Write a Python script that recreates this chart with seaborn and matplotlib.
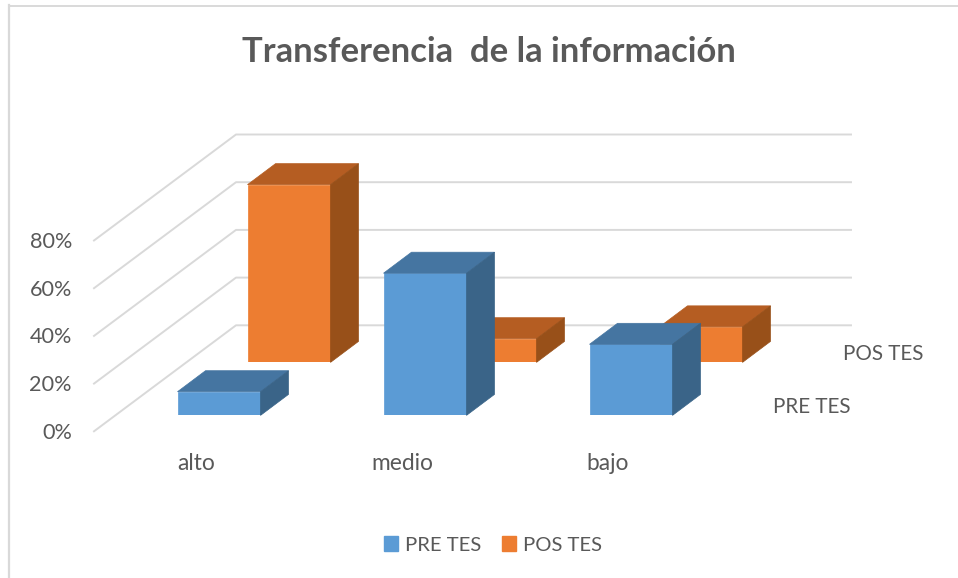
import matplotlib
matplotlib.use('Agg')
import matplotlib.pyplot as plt
import pandas as pd
import seaborn as sns
from matplotlib.patches import Patch, Polygon

# Chart data
categories = ['alto', 'medio', 'bajo']
pre_tes = [10, 60, 30]
pos_tes = [75, 10, 15]
y_ticks = [0, 20, 40, 60, 80]
series_names = ['PRE TES', 'POS TES']
title = 'Transferencia  de la información'

# Colours: front, top, side
BLUE = ('#5B9BD5', '#4575A1', '#3A6488')
ORANGE = ('#ED7D31', '#B55D22', '#985019')
GRID = '#D9D9D9'
TEXT = '#595959'

# Pseudo 3D layout, in pixels of the 958x578 picture
W, H = 958, 578
PX_PER_PCT = 47.4 / 20
CAT_STEP = 206
BAR_PX = 83
DEPTH_DX, DEPTH_DY = 28, 21


def make_axes(fig, left, baseline):
    # axes with y=0 on the baseline pixel, 0-100% upward, categories across
    height = 100 * PX_PER_PCT
    ax = fig.add_axes([left / W, (H - baseline) / H, 3 * CAT_STEP / W, height / H])
    ax.patch.set_alpha(0)
    return ax


def draw_bars(ax, values, colors):
    df = pd.DataFrame({'category': categories, 'value': values})
    sns.barplot(data=df, x='category', y='value', color=colors[0], saturation=1,
                width=BAR_PX / CAT_STEP, ax=ax)
    ax.set_xlim(-0.5, 2.5)
    ax.set_ylim(0, 100)
    ax.axis('off')

    # top and side faces come from the front rectangles
    dx = DEPTH_DX / CAT_STEP
    dy = DEPTH_DY / PX_PER_PCT
    for bar in list(ax.patches):
        bar.set_edgecolor(colors[0])
        bar.set_linewidth(0.5)
        x0, x1 = bar.get_x(), bar.get_x() + bar.get_width()
        top = bar.get_height()
        ax.add_patch(Polygon([(x0, top), (x1, top), (x1 + dx, top + dy), (x0 + dx, top + dy)],
                             facecolor=colors[1], edgecolor=colors[1], lw=0.5, clip_on=False))
        ax.add_patch(Polygon([(x1, 0), (x1 + dx, dy), (x1 + dx, top + dy), (x1, top)],
                             facecolor=colors[2], edgecolor=colors[2], lw=0.5, clip_on=False))


fig = plt.figure(figsize=(W / 100, H / 100), dpi=100)
plt.rcParams['font.family'] = ['Lato', 'DejaVu Sans']

# background layer in picture pixels
bg = fig.add_axes([0, 0, 1, 1])
bg.set_xlim(0, W)
bg.set_ylim(H, 0)
bg.axis('off')
bg.plot([9, 9], [5, H], color=GRID, lw=1.6)
bg.plot([9, W], [6, 6], color=GRID, lw=1.4)

for tick in y_ticks:
    front_y = 431.3 - tick * 47.7 / 20
    back_y = 325.3 - tick * 47.7 / 20
    bg.plot([94, 236, 851], [front_y, back_y, back_y], color=GRID, lw=1.4)
    bg.text(72, front_y + 1.5, f'{tick}%', ha='right', va='center', fontsize=15.6, color=TEXT)

for i, cat in enumerate(categories):
    bg.text(197 + i * CAT_STEP - 1, 464, cat, ha='center', va='center', fontsize=16.4, color=TEXT)

bg.text(812, 407, series_names[0], ha='center', va='center', fontsize=14.9, color=TEXT)
bg.text(883, 354, series_names[1], ha='center', va='center', fontsize=14.9, color=TEXT)
bg.text(489, 52, title, ha='center', va='center', fontsize=24.9, fontweight='bold', color=TEXT)

# back row first, front row on top of it
ax_pos = make_axes(fig, 186, 362.4)
draw_bars(ax_pos, pos_tes, ORANGE)
ax_pre = make_axes(fig, 116, 415.4)
draw_bars(ax_pre, pre_tes, BLUE)

handles = [Patch(color=BLUE[0], label=series_names[0]), Patch(color=ORANGE[0], label=series_names[1])]
fig.legend(handles=handles, loc='center', bbox_to_anchor=(493 / W, 1 - 545 / H), ncol=2,
           frameon=False, fontsize=14.6, labelcolor=TEXT, handlelength=0.7, handleheight=0.7,
           handletextpad=0.35, columnspacing=1.0)

fig.savefig('out.png', dpi=100)
